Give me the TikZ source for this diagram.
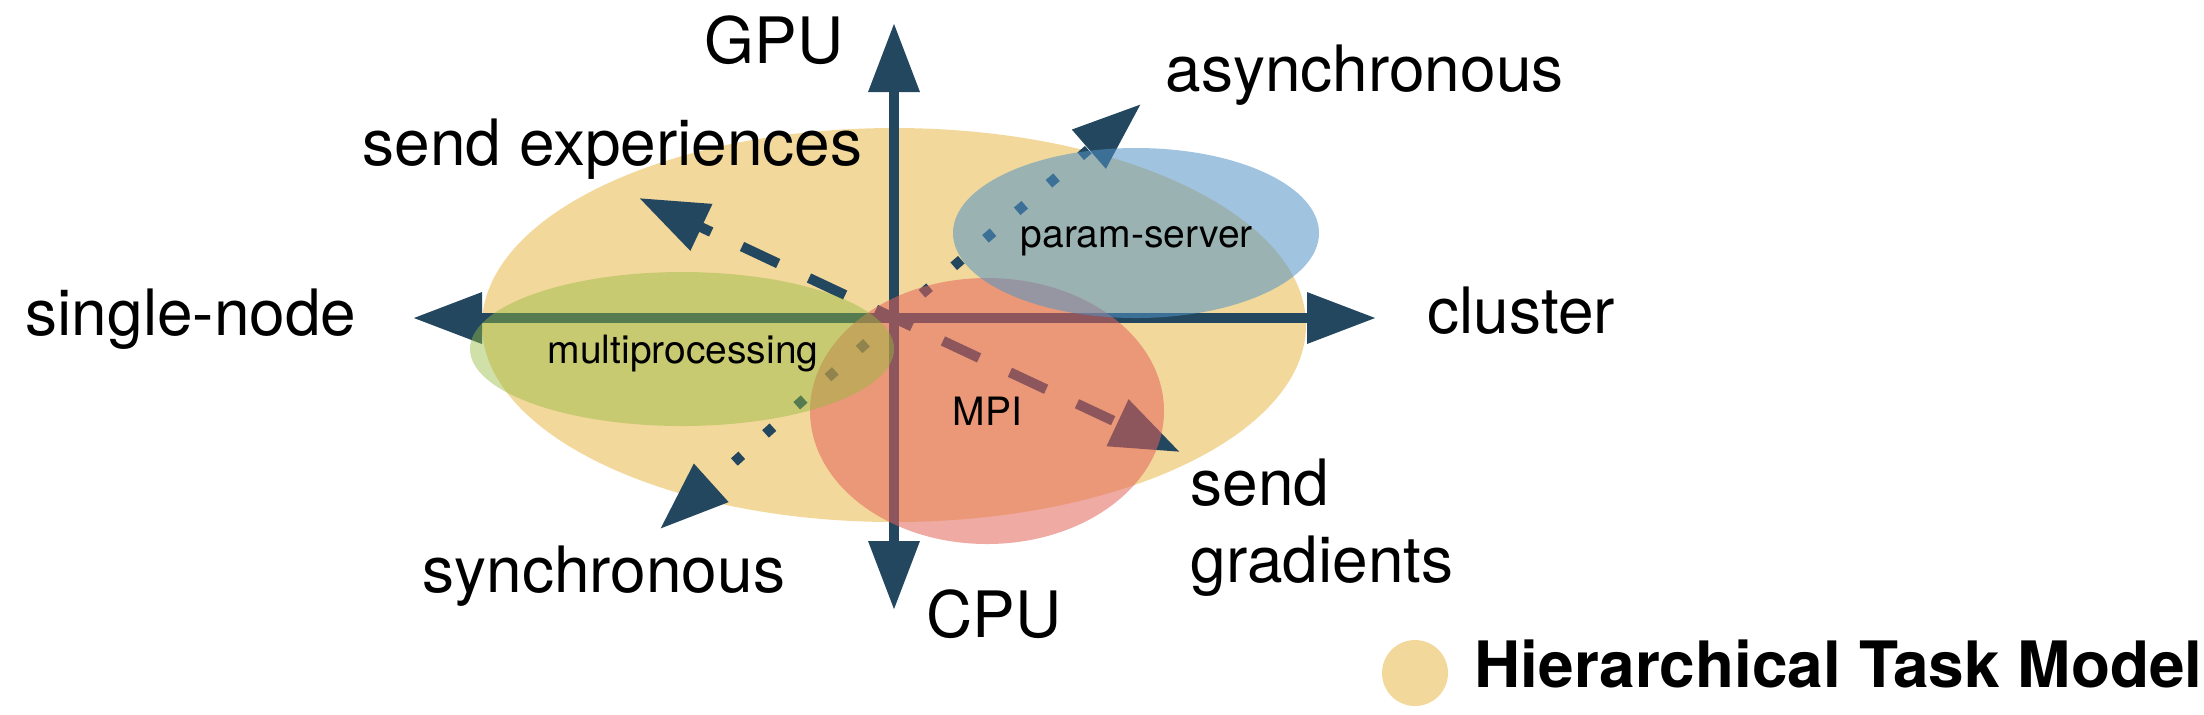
\documentclass[tikz,border=0pt]{standalone}
\usepackage{fontspec}
\setmainfont{TeX Gyre Heros}
\usetikzlibrary{arrows.meta}

\definecolor{axisblue}{HTML}{23475F}
\definecolor{htmyellow}{HTML}{F3D89B}
\definecolor{mpgreen}{HTML}{95BB3E}
\definecolor{mpired}{HTML}{E3645A}
\definecolor{psblue}{HTML}{5293C6}

\begin{document}
\begin{tikzpicture}[x=0.1mm, y=-0.1mm, >={Triangle[length=6.9mm, width=4.9mm]}]
        \tikzstyle{axislabel} = [inner sep=0pt, font=\fontsize{18.2}{21.9}\selectfont]
        \tikzstyle{blobtext} = [inner sep=0pt, font=\fontsize{11.1}{13.3}\selectfont]
        \tikzstyle{axis} = [draw=axisblue, line width=1mm]
        \tikzstyle{sendline} = [axis, ->, dash pattern=on 4mm off 3.4mm, dash phase=2mm]
        \tikzstyle{syncline} = [axis, ->, dash pattern=on 1mm off 3.2mm, dash phase=0.5mm]
        \tikzstyle{blob} = [fill opacity=0.55]

        \useasboundingbox (0,0) rectangle (2204,714);

        % hierarchical task model
        \fill [htmyellow] (894,325) ellipse [x radius=412, y radius=197];

        \coordinate (origin) at (894,318);
        \coordinate (gputip) at (894,23);
        \coordinate (cputip) at (894,610);
        \coordinate (singletip) at (413,318);
        \coordinate (clustertip) at (1376,318);
        \coordinate (asynctip) at (1141,104);
        \coordinate (synctip) at (660,529);
        \coordinate (exptip) at (639,198);
        \coordinate (gradtip) at (1180,452);

        \draw [sendline] (origin) -- (exptip);
        \draw [sendline] (origin) -- (gradtip);
        \draw [syncline] (origin) -- (asynctip);
        \draw [syncline] (origin) -- (synctip);

        \draw [axis, <->] (singletip) -- (clustertip);
        \draw [axis, <->] (cputip) -- (gputip);

        % backends
        \fill [mpired, blob] (987,411) ellipse [x radius=177, y radius=133];
        \fill [mpgreen, fill opacity=0.45] (682,349) ellipse [x radius=212, y radius=77];
        \fill [psblue, blob] (1136,233) ellipse [x radius=183, y radius=85];

        \node (gpu) [axislabel, anchor=base] at (774,63) {GPU};
        \node (cpu) [axislabel, anchor=base west] at (926,637) {CPU};
        \node (single) [axislabel, anchor=base west] at (25,335) {single-node};
        \node (cluster) [axislabel, anchor=base west] at (1427,333) {cluster};
        \node (async) [axislabel, anchor=base west] at (1165,91) {asynchronous};
        \node (sync) [axislabel, anchor=base west] at (422,592) {synchronous};
        \node (experiences) [axislabel, anchor=base west] at (362,165) {send experiences};
        \node (gradients) [axislabel, anchor=base west, align=left] at (1190,582) {send\\gradients};

        \node (multiproc) [blobtext, anchor=base west] at (547,363) {multiprocessing};
        \node (paramserver) [blobtext, anchor=base west] at (1020,247) {param-server};
        \node (mpi) [blobtext, anchor=base west] at (952,425) {MPI};

        % legend
        \fill [htmyellow] (1415,673) circle [radius=33];
        \node (legend) [axislabel, anchor=base west, font=\fontsize{18.2}{21.9}\selectfont\bfseries] at (1474,687) {Hierarchical Task Model};
    \end{tikzpicture}
\end{document}
